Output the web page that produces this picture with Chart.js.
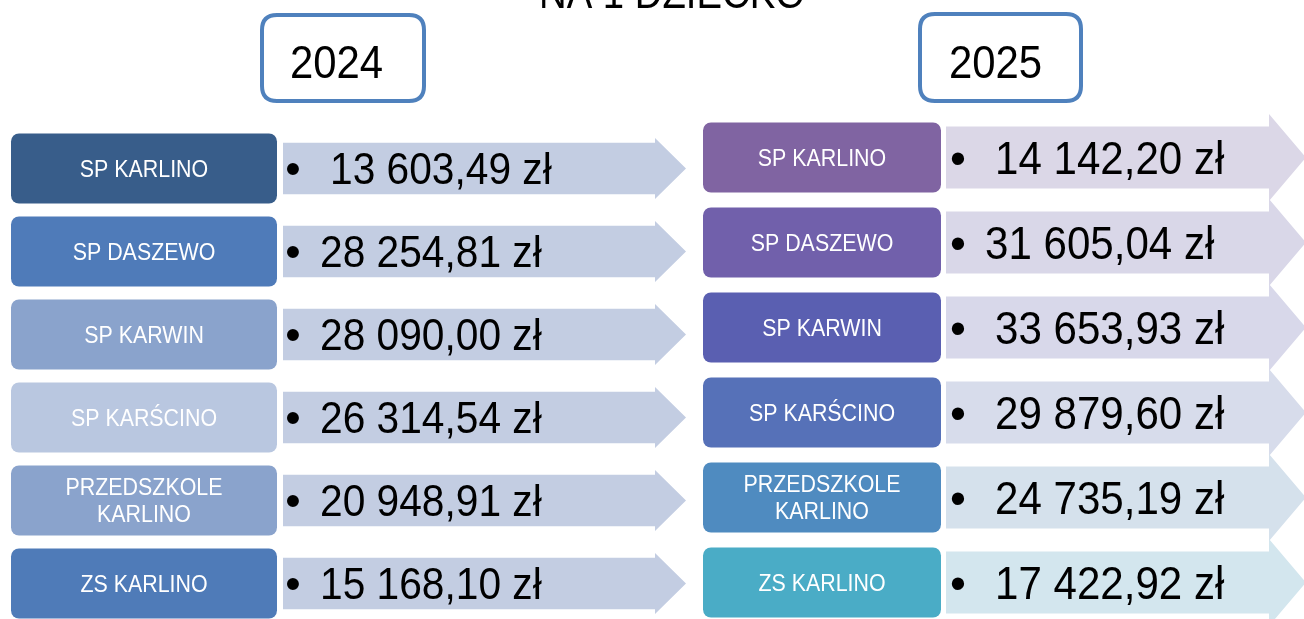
<!DOCTYPE html>
<html lang="pl">
<head>
<meta charset="UTF-8">
<title>Koszt na 1 dziecko</title>
<script src="https://cdn.jsdelivr.net/npm/chart.js"></script>
<style>
  html, body { margin: 0; padding: 0; background: #fff; overflow: hidden; }
  #page { position: relative; width: 1304px; height: 619px; overflow: hidden; }
  #page canvas { position: absolute; left: 0; top: 0; }
</style>
</head>
<body>
<div id="page">
  <canvas id="chart2024" width="1304" height="625"></canvas>
  <canvas id="chart2025" width="1304" height="625"></canvas>
</div>
<script>
// --- data ---
var title = 'NA 1 DZIECKO';
var schools2024 = ['SP KARLINO', 'SP DASZEWO', 'SP KARWIN', 'SP KARŚCINO', ['PRZEDSZKOLE', 'KARLINO'], 'ZS KARLINO'];
var values2024 = [13603.49, 28254.81, 28090.00, 26314.54, 20948.91, 15168.10];
var schools2025 = ['SP KARLINO', 'SP DASZEWO', 'SP KARWIN', 'SP KARŚCINO', ['PRZEDSZKOLE', 'KARLINO'], 'ZS KARLINO'];
var values2025 = [14142.20, 31605.04, 33653.93, 29879.60, 24735.19, 17422.92];

// colours
var boxColors2024 = ['#385d8a', '#4f7bb9', '#8aa3cc', '#b9c7e0', '#8aa3cc', '#4f7bb8'];
var arrowColors2024 = ['#c3cde2', '#c3cde2', '#c3cde2', '#c3cde2', '#c3cde2', '#c3cde2'];
var boxColors2025 = ['#8064a2', '#7160ab', '#5a5fb1', '#5671b8', '#4f8bc0', '#4aacc6'];
var arrowColors2025 = ['#dbd7e7', '#d9d7e8', '#d8d8ea', '#d7dceb', '#d5e1ec', '#d3e6ee'];

var FONT = '"Liberation Sans", Arial, sans-serif';

function formatPLN(v) {
    var parts = v.toFixed(2).split('.');
    return parts[0].replace(/\B(?=(\d{3})+(?!\d))/g, ' ') + ',' + parts[1] + ' zł';
}

function txt(ctx, s, x, y, size, sx, align, color) {
    ctx.save();
    ctx.font = size + 'px ' + FONT;
    ctx.fillStyle = color;
    ctx.textAlign = align;
    ctx.textBaseline = 'alphabetic';
    ctx.translate(x, y);
    ctx.scale(sx, 1);
    ctx.fillText(s, 0, 0);
    ctx.restore();
}

function roundRect(ctx, x, y, w, h, r) {
    ctx.beginPath();
    ctx.moveTo(x + r, y);
    ctx.lineTo(x + w - r, y);
    ctx.quadraticCurveTo(x + w, y, x + w, y + r);
    ctx.lineTo(x + w, y + h - r);
    ctx.quadraticCurveTo(x + w, y + h, x + w - r, y + h);
    ctx.lineTo(x + r, y + h);
    ctx.quadraticCurveTo(x, y + h, x, y + h - r);
    ctx.lineTo(x, y + r);
    ctx.quadraticCurveTo(x, y, x + r, y);
    ctx.closePath();
}

// layout of each half of the slide (page pixels on a hidden x axis)
var panels = [
    {
        id: 'chart2024', year: '2024', labels: schools2024, values: values2024,
        boxColors: boxColors2024, arrowColors: arrowColors2024,
        top: 127, box: [11, 277], arrow: [283, 686],
        boxPct: 0.843, bodyPct: 0.62, headHalf: 30.5, headLen: 31,
        bulletDx: 10, textDx: 37, lead: [10, 0, 0, 0, 0, 0], valueSize: 44,
        yearBox: [260, 13, 166, 90], yearX: 336.5, drawTitle: true
    },
    {
        id: 'chart2025', year: '2025', labels: schools2025, values: values2025,
        boxColors: boxColors2025, arrowColors: arrowColors2025,
        top: 115, box: [703, 941], arrow: [946, 1306],
        boxPct: 0.824, bodyPct: 0.73, headHalf: 43.5, headLen: 37,
        bulletDx: 12, textDx: 39, lead: [10, 0, 10, 10, 10, 10], valueSize: 45.5,
        yearBox: [918, 12, 165, 91], yearX: 995.5, drawTitle: false
    }
];

function makePlugin(p) {
    return {
        id: 'panel_' + p.year,
        beforeDatasetsDraw: function(chart) {
            var ctx = chart.ctx;
            // arrows behind everything
            chart.getDatasetMeta(1).data.forEach(function(el, i) {
                var pr = el.getProps(['x', 'y', 'base', 'height'], true);
                var half = pr.height / 2, hx = pr.x - p.headLen;
                ctx.save();
                ctx.fillStyle = p.arrowColors[i];
                ctx.beginPath();
                ctx.moveTo(pr.base, pr.y - half);
                ctx.lineTo(hx, pr.y - half);
                ctx.lineTo(hx, pr.y - p.headHalf);
                ctx.lineTo(pr.x, pr.y);
                ctx.lineTo(hx, pr.y + p.headHalf);
                ctx.lineTo(hx, pr.y + half);
                ctx.lineTo(pr.base, pr.y + half);
                ctx.closePath();
                ctx.fill();
                ctx.restore();
            });
        },
        afterDatasetsDraw: function(chart) {
            var ctx = chart.ctx;
            // school names in the boxes
            chart.getDatasetMeta(0).data.forEach(function(el, i) {
                var pr = el.getProps(['x', 'y', 'base'], true);
                var cx = (pr.x + pr.base) / 2;
                var lab = p.labels[i];
                if (Array.isArray(lab)) {
                    txt(ctx, lab[0], cx, pr.y - 13.5 + 8.2, 23, 0.93, 'center', '#fff');
                    txt(ctx, lab[1], cx, pr.y + 13.5 + 8.2, 23, 0.93, 'center', '#fff');
                } else {
                    txt(ctx, lab, cx, pr.y + 8.2, 23, 0.93, 'center', '#fff');
                }
            });
            // values on the arrows
            chart.getDatasetMeta(1).data.forEach(function(el, i) {
                var pr = el.getProps(['y', 'base'], true);
                var base = pr.y + p.valueSize * 0.355;
                txt(ctx, '\u2022', pr.base + p.bulletDx, base, p.valueSize, 1, 'center', '#000');
                txt(ctx, formatPLN(p.values[i]), pr.base + p.textDx + p.lead[i], base, p.valueSize, 0.925, 'left', '#000');
            });
            // year box
            var b = p.yearBox;
            ctx.save();
            roundRect(ctx, b[0] + 2, b[1] + 2, b[2] - 4, b[3] - 4, 15);
            ctx.fillStyle = '#fff';
            ctx.fill();
            ctx.lineWidth = 4;
            ctx.strokeStyle = '#4f81bd';
            ctx.stroke();
            ctx.restore();
            txt(ctx, p.year, p.yearX, 78, 46, 0.91, 'center', '#000');
            if (p.drawTitle) {
                txt(ctx, title, 672, 8, 44, 0.87, 'center', '#000');
            }
        }
    };
}

panels.forEach(function(p) {
    var ctx = document.getElementById(p.id).getContext('2d');
    new Chart(ctx, {
        type: 'bar',
        data: {
            labels: p.labels,
            datasets: [{
                label: 'box',
                data: p.labels.map(function() { return p.box; }),
                backgroundColor: p.boxColors,
                borderRadius: 8,
                borderSkipped: false,
                barPercentage: p.boxPct,
                categoryPercentage: 1,
                grouped: false
            },
            {
                label: 'arrow',
                data: p.values.map(function() { return p.arrow; }),
                backgroundColor: 'rgba(0,0,0,0)',
                barPercentage: p.bodyPct,
                categoryPercentage: 1,
                grouped: false
            }]
        },
        options: {
            indexAxis: 'y',
            responsive: false,
            animation: false,
            layout: { padding: { top: p.top, left: 0, right: 0, bottom: 0 } },
            scales: {
                x: { type: 'linear', min: 0, max: 1304, display: false },
                y: { display: false }
            },
            plugins: { legend: { display: false }, tooltip: { enabled: false } }
        },
        plugins: [makePlugin(p)]
    });
});
</script>
</body>
</html>
